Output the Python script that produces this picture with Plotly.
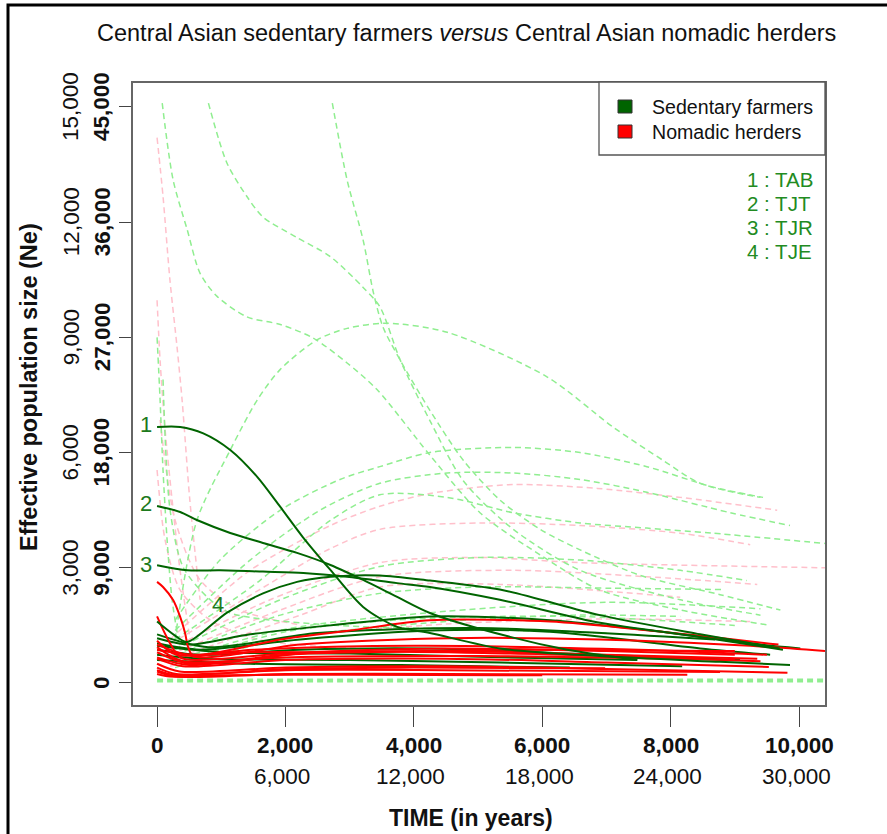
import plotly.graph_objects as go

# ---------------- data (years, Ne) ----------------
x_ticks = [0, 2000, 4000, 6000, 8000, 10000]
x_labels_bold = ["0", "2,000", "4,000", "6,000", "8,000", "10,000"]
x_ticks_alt = [2000, 4000, 6000, 8000, 10000]
x_labels_alt = ["6,000", "12,000", "18,000", "24,000", "30,000"]
y_ticks = [0, 9000, 18000, 27000, 36000, 45000]
y_labels_bold = ["0", "9,000", "18,000", "27,000", "36,000", "45,000"]
y_ticks_alt = [9000, 18000, 27000, 36000, 45000]
y_labels_alt = ["3,000", "6,000", "9,000", "12,000", "15,000"]

# labelled sedentary populations
tab_x = [0, 360, 720, 1140, 1560, 1920, 2270, 2700, 3210, 3740, 4250, 5340, 6900, 8770, 9860]
tab_y = [20000, 20000, 19500, 18200, 16100, 13750, 11400, 8830, 5940, 4380, 3910, 2700, 2100, 1650, 1400]
tjt_x = [0, 360, 620, 1140, 1650, 2180, 2700, 3210, 3740, 4250, 5500, 6390, 7480]
tjt_y = [13830, 13360, 12730, 11720, 10940, 10160, 9220, 8050, 6720, 5470, 3600, 2600, 1800]
tjr_x = [0, 470, 980, 1650, 2280, 2960, 3740, 4250, 5340, 6900, 8460, 9750]
tjr_y = [9200, 8800, 8800, 8700, 8600, 8300, 7800, 7500, 6500, 4700, 3600, 2600]
tje_x = [0, 280, 470, 1090, 1650, 2180, 2700, 3470, 4250, 5340, 6900, 8460, 9700]
tje_y = [4800, 3700, 3200, 5500, 7000, 7900, 8300, 8400, 8000, 7300, 5300, 3800, 2700]
curve_labels = ["1", "2", "3", "4"]
curve_label_x = [-171, -171, -171, 950]
curve_label_y = [20200, 14060, 9220, 6170]
key_labels = ["1 : TAB", "2 : TJT", "3 : TJR", "4 : TJE"]

# other sedentary farmers (solid)
farm_x = [
    [0, 510, 1450, 2700, 4250, 6120, 7680, 9400, 10020],
    [0, 670, 2230, 4250, 6120, 8460, 9550],
    [0, 670, 2230, 4250, 6900, 9080],
    [0, 670, 3000, 5340, 8180],
    [0, 1450, 3790, 6430],
    [0, 1000, 3000, 5500, 7480],
    [0, 800, 2500, 5000, 8690],
]
farm_y = [
    [3500, 3000, 3800, 4500, 5200, 4900, 4100, 3000, 2700],
    [3100, 2600, 3400, 4100, 4000, 2700, 2200],
    [2600, 2200, 2600, 2700, 2200, 1800],
    [2200, 1900, 1800, 1600, 1300],
    [1800, 1500, 1400, 1200],
    [2900, 2400, 2300, 2000, 1800],
    [3800, 2800, 3900, 4300, 3400],
]

# nomadic herders (solid)
nomad_x = [
    [0, 93, 250, 360, 436, 483, 560, 800, 1450, 3000, 5340, 9000],
    [0, 360, 670, 2000, 4500, 7000, 9000],
    [0, 670, 1920, 3000, 4250, 6120, 7680, 9680],
    [0, 670, 2230, 4570, 6900, 9240, 10405],
    [0, 500, 2000, 4500, 7000, 9350],
    [0, 400, 2000, 4500, 7000, 9530],
    [0, 350, 2000, 4500, 7000, 9820],
    [0, 300, 2000, 4500, 8770],
    [0, 300, 2000, 4500, 8260],
    [0, 300, 2000, 4000, 6980],
    [0, 400, 2000, 5000, 9000],
    [0, 500, 2500, 5500, 9400],
    [0, 300, 1500, 4000, 7500, 9500],
    [0, 200, 1000, 3000, 6000],
]
nomad_y = [
    [7900, 7500, 6480, 5160, 3910, 2810, 2100, 2200, 2400, 2400, 2600, 2500],
    [5200, 2000, 1800, 2300, 2700, 2500, 2200],
    [2600, 2200, 3400, 4100, 4900, 4800, 4100, 3000],
    [3000, 2000, 3000, 3500, 3400, 2900, 2500],
    [2400, 1500, 2200, 2500, 2200, 1900],
    [1900, 1300, 1800, 1900, 1600, 1250],
    [1500, 900, 1200, 1300, 1100, 800],
    [1200, 700, 1000, 1000, 850],
    [900, 500, 700, 700, 650],
    [1000, 600, 1100, 1200, 1150],
    [2800, 1700, 2000, 2100, 1800],
    [2000, 1400, 2400, 2300, 1700],
    [3300, 2200, 2600, 2900, 2600, 2200],
    [700, 500, 600, 650, 600],
]

# sedentary confidence bounds (dashed light green)
farm_ci_x = [
    [80, 250, 470, 670, 935, 1400, 1920, 2430, 2960, 3430, 4250, 5030, 5970, 6900, 8150, 9550],
    [800, 1090, 1400, 1650, 2180, 2700, 3210, 3470, 3790, 4250, 4770, 5550, 6590, 8150, 9400],
    [2730, 2960, 3210, 3370, 3520, 3790, 4250, 4770, 5340, 5970, 6590, 7530, 8770, 9710],
    [280, 620, 1140, 1560, 1920, 2490, 2960, 3580, 4520, 6080, 7100, 7880, 8460, 9400],
    [280, 980, 1920, 2850, 3470, 4250, 5550, 6590, 7630, 8660, 9440],
    [280, 1450, 2540, 3470, 4520, 5550, 6590, 7630, 8930, 9860],
    [280, 1600, 2700, 3470, 4520, 5550, 6590, 7630, 8660, 10405],
    [280, 1920, 3470, 5030, 6590, 8150, 9190],
    [280, 1920, 3470, 5030, 7100, 8820],
    [280, 2000, 4000, 6500, 9000],
    [280, 2000, 4500, 7000, 9400],
    [280, 2000, 4500, 6500, 8150],
    [0, 47, 93, 156, 234, 358],
    [93, 203, 405, 780, 1140, 2700, 5340, 7000],
]
farm_ci_y = [
    [45300, 39300, 35400, 32000, 30200, 28600, 28000, 26950, 25000, 22900, 17800, 13300, 10000, 7260, 5700, 4500],
    [45300, 40600, 38000, 36400, 34800, 33300, 30900, 29400, 25200, 20500, 15800, 12000, 8800, 6500, 5300],
    [45300, 39300, 34600, 30500, 27800, 25200, 21300, 17400, 14300, 12000, 10400, 8400, 6900, 5700],
    [3400, 12700, 18200, 22100, 24500, 26800, 27700, 28100, 27400, 23900, 20000, 17400, 15600, 14500],
    [4900, 9600, 13500, 15900, 16900, 18000, 18400, 18000, 16900, 15300, 14500],
    [4100, 9600, 13500, 15600, 16400, 16400, 15900, 14900, 13300, 12300],
    [3400, 8000, 12700, 14700, 14500, 13300, 12500, 12100, 11700, 10900],
    [2600, 6500, 9100, 9800, 9600, 8800, 8000],
    [2200, 5300, 7000, 7500, 7400, 7300],
    [1500, 4000, 5000, 5200, 4500],
    [1800, 4200, 5600, 6300, 5800],
    [1200, 3500, 4800, 5300, 5200],
    [27000, 22100, 16600, 11200, 6500, 2600],
    [23700, 13500, 9060, 6720, 5470, 4530, 4140, 3900],
]
floor_x = [0, 10405]
floor_y = [200, 200]

# nomadic confidence bounds (dashed pink)
nomad_ci_x = [
    [0, 93, 200, 310, 390, 510, 670],
    [0, 47, 125, 234, 358, 514],
    [200, 1450, 2700, 3470, 4250, 5550, 6860, 8150, 9660],
    [200, 1600, 2700, 3470, 5030, 6590, 8150, 9240],
    [200, 1760, 3470, 5030, 6590, 10405],
    [200, 1920, 3470, 5550, 7630, 9350],
    [200, 2230, 3470, 5340, 8150],
    [200, 2000, 4500, 7000, 9240],
    [0, 125, 358, 825, 1605, 3790],
    [47, 280, 670, 1290, 2230],
]
nomad_ci_y = [
    [42600, 38000, 31500, 26300, 22100, 14300, 6500],
    [29900, 25200, 19800, 14300, 8800, 3400],
    [3400, 8800, 12300, 13800, 14800, 15500, 15200, 14500, 13500],
    [3000, 7300, 10500, 12000, 12500, 12300, 11700, 10800],
    [2600, 6500, 9400, 9800, 9400, 9000],
    [2200, 5700, 8300, 8800, 8300, 7700],
    [1800, 5300, 7500, 7700, 6700],
    [1300, 3500, 4600, 5000, 4800],
    [16640, 11170, 7270, 4920, 3360, 2580],
    [20550, 12730, 8050, 5700, 4530],
]

# ---------------- layout geometry ----------------
W, H = 887, 834
L, R, T, B = 133, 62, 83, 129
PW = W - L - R
PH = H - T - B
X_RANGE = [-375, 10405]
Y_RANGE = [-1720, 46870]
FONT = "Liberation Sans, Arial, sans-serif"

DARKGREEN = "#006400"
RED = "#FF0000"
LIGHTGREEN = "#90EE90"
PINK = "#FFC0CB"


def pxx(p):
    return (p - L) / PW


def pxy(p):
    return (H - B - p) / PH


fig = go.Figure()


def add_line(x, y, color, width, dash=None, name=None, group=None):
    fig.add_trace(go.Scatter(
        x=x, y=y, mode="lines", name=name, legendgroup=group, showlegend=False,
        line=dict(color=color, width=width, dash=dash, shape="spline", smoothing=0.8),
        hoverinfo="skip"))


for xs, ys in zip(nomad_ci_x, nomad_ci_y):
    add_line(xs, ys, PINK, 1.5, "6px,4px", "Nomadic herders", "nomad")
for xs, ys in zip(farm_ci_x, farm_ci_y):
    add_line(xs, ys, LIGHTGREEN, 1.5, "6px,4px", "Sedentary farmers", "farm")
add_line(floor_x, floor_y, LIGHTGREEN, 4, "6px,4px", "Sedentary farmers", "farm")

for xs, ys in zip(farm_x, farm_y):
    add_line(xs, ys, DARKGREEN, 2, None, "Sedentary farmers", "farm")
for xs, ys in zip(nomad_x, nomad_y):
    add_line(xs, ys, RED, 2, None, "Nomadic herders", "nomad")
for xs, ys in [(tab_x, tab_y), (tjt_x, tjt_y), (tjr_x, tjr_y), (tje_x, tje_y)]:
    add_line(xs, ys, DARKGREEN, 2, None, "Sedentary farmers", "farm")

ann = []
# title
ann.append(dict(x=pxx(466), y=pxy(33), xref="paper", yref="paper", showarrow=False,
                text="Central Asian sedentary farmers <i>versus</i> Central Asian nomadic herders",
                font=dict(size=23.5, color="#111"), xanchor="center", yanchor="middle"))
# x tick labels
for v, lab in zip(x_ticks, x_labels_bold):
    ann.append(dict(x=v, y=0, xref="x", yref="paper", yshift=-40, showarrow=False,
                    text=f"<b>{lab}</b>", font=dict(size=22.5, color="#111"),
                    xanchor="center", yanchor="middle"))
for v, lab in zip(x_ticks_alt, x_labels_alt):
    ann.append(dict(x=v, y=0, xref="x", yref="paper", yshift=-71, xshift=-3, showarrow=False,
                    text=lab, font=dict(size=22.5, color="#111"),
                    xanchor="center", yanchor="middle"))
# y tick labels
for v, lab in zip(y_ticks, y_labels_bold):
    ann.append(dict(x=0, y=v, xref="paper", yref="y", xshift=-31, showarrow=False,
                    text=f"<b>{lab}</b>", textangle=-90, font=dict(size=22.5, color="#111"),
                    xanchor="center", yanchor="middle"))
for v, lab in zip(y_ticks_alt, y_labels_alt):
    ann.append(dict(x=0, y=v, xref="paper", yref="y", xshift=-62, showarrow=False,
                    text=lab, textangle=-90, font=dict(size=22.5, color="#111"),
                    xanchor="center", yanchor="middle"))
# axis titles
ann.append(dict(x=pxx(471), y=0, xref="paper", yref="paper", yshift=-113, showarrow=False,
                text="<b>TIME (in years)</b>", font=dict(size=23, color="#111"),
                xanchor="center", yanchor="middle"))
ann.append(dict(x=0, y=pxy(387), xref="paper", yref="paper", xshift=-104, showarrow=False,
                text="<b>Effective population size (Ne)</b>", textangle=-90,
                font=dict(size=23.5, color="#111"), xanchor="center", yanchor="middle"))
# curve labels
for lab, cx, cy in zip(curve_labels, curve_label_x, curve_label_y):
    ann.append(dict(x=cx, y=cy, xref="x", yref="y", showarrow=False, text=lab,
                    font=dict(size=22, color="#1d7a1d"), xanchor="center", yanchor="middle"))
# key of labels
for i, lab in enumerate(key_labels):
    ann.append(dict(x=pxx(745), y=pxy(179 + 24.3 * i), xref="paper", yref="paper",
                    showarrow=False, text=lab, font=dict(size=20.5, color="#228B22"),
                    xanchor="left", yanchor="middle"))
# legend texts
for i, lab in enumerate(["Sedentary farmers", "Nomadic herders"]):
    ann.append(dict(x=pxx(650), y=pxy(107 + 25 * i), xref="paper", yref="paper",
                    showarrow=False, text=lab, font=dict(size=19.6, color="#111"),
                    xanchor="left", yanchor="middle"))

shapes = [
    # legend box
    dict(type="rect", xref="paper", yref="paper", x0=pxx(599), x1=1.0,
         y0=pxy(155), y1=pxy(82), line=dict(color="#555", width=1.3), fillcolor="white"),
    dict(type="rect", xref="paper", yref="paper", x0=pxx(618), x1=pxx(632),
         y0=pxy(113), y1=pxy(100), line=dict(color="#333", width=1), fillcolor=DARKGREEN),
    dict(type="rect", xref="paper", yref="paper", x0=pxx(618), x1=pxx(632),
         y0=pxy(138), y1=pxy(125), line=dict(color="#333", width=1), fillcolor=RED),
    # outer frame (left and top)
    dict(type="path", xref="paper", yref="paper",
         path=f"M {pxx(8)},{pxy(840)} L {pxx(8)},{pxy(5)} L {pxx(895)},{pxy(5)}",
         line=dict(color="black", width=3)),
]

fig.update_layout(
    width=W, height=H,
    margin=dict(l=L, r=R, t=T, b=B),
    paper_bgcolor="white", plot_bgcolor="white",
    font=dict(family=FONT, color="#111"),
    showlegend=False,
    annotations=ann,
    shapes=shapes,
    xaxis=dict(range=X_RANGE, showgrid=False, zeroline=False, showline=True, mirror=True,
               linecolor="#666", linewidth=1.5, ticks="outside", tickvals=x_ticks,
               ticklen=20, tickwidth=1.3, tickcolor="#444", showticklabels=False),
    yaxis=dict(range=Y_RANGE, showgrid=False, zeroline=False, showline=True, mirror=True,
               linecolor="#666", linewidth=1.5, ticks="outside", tickvals=y_ticks,
               ticklen=12, tickwidth=1.3, tickcolor="#444", showticklabels=False),
)

fig.write_html("out.html")
